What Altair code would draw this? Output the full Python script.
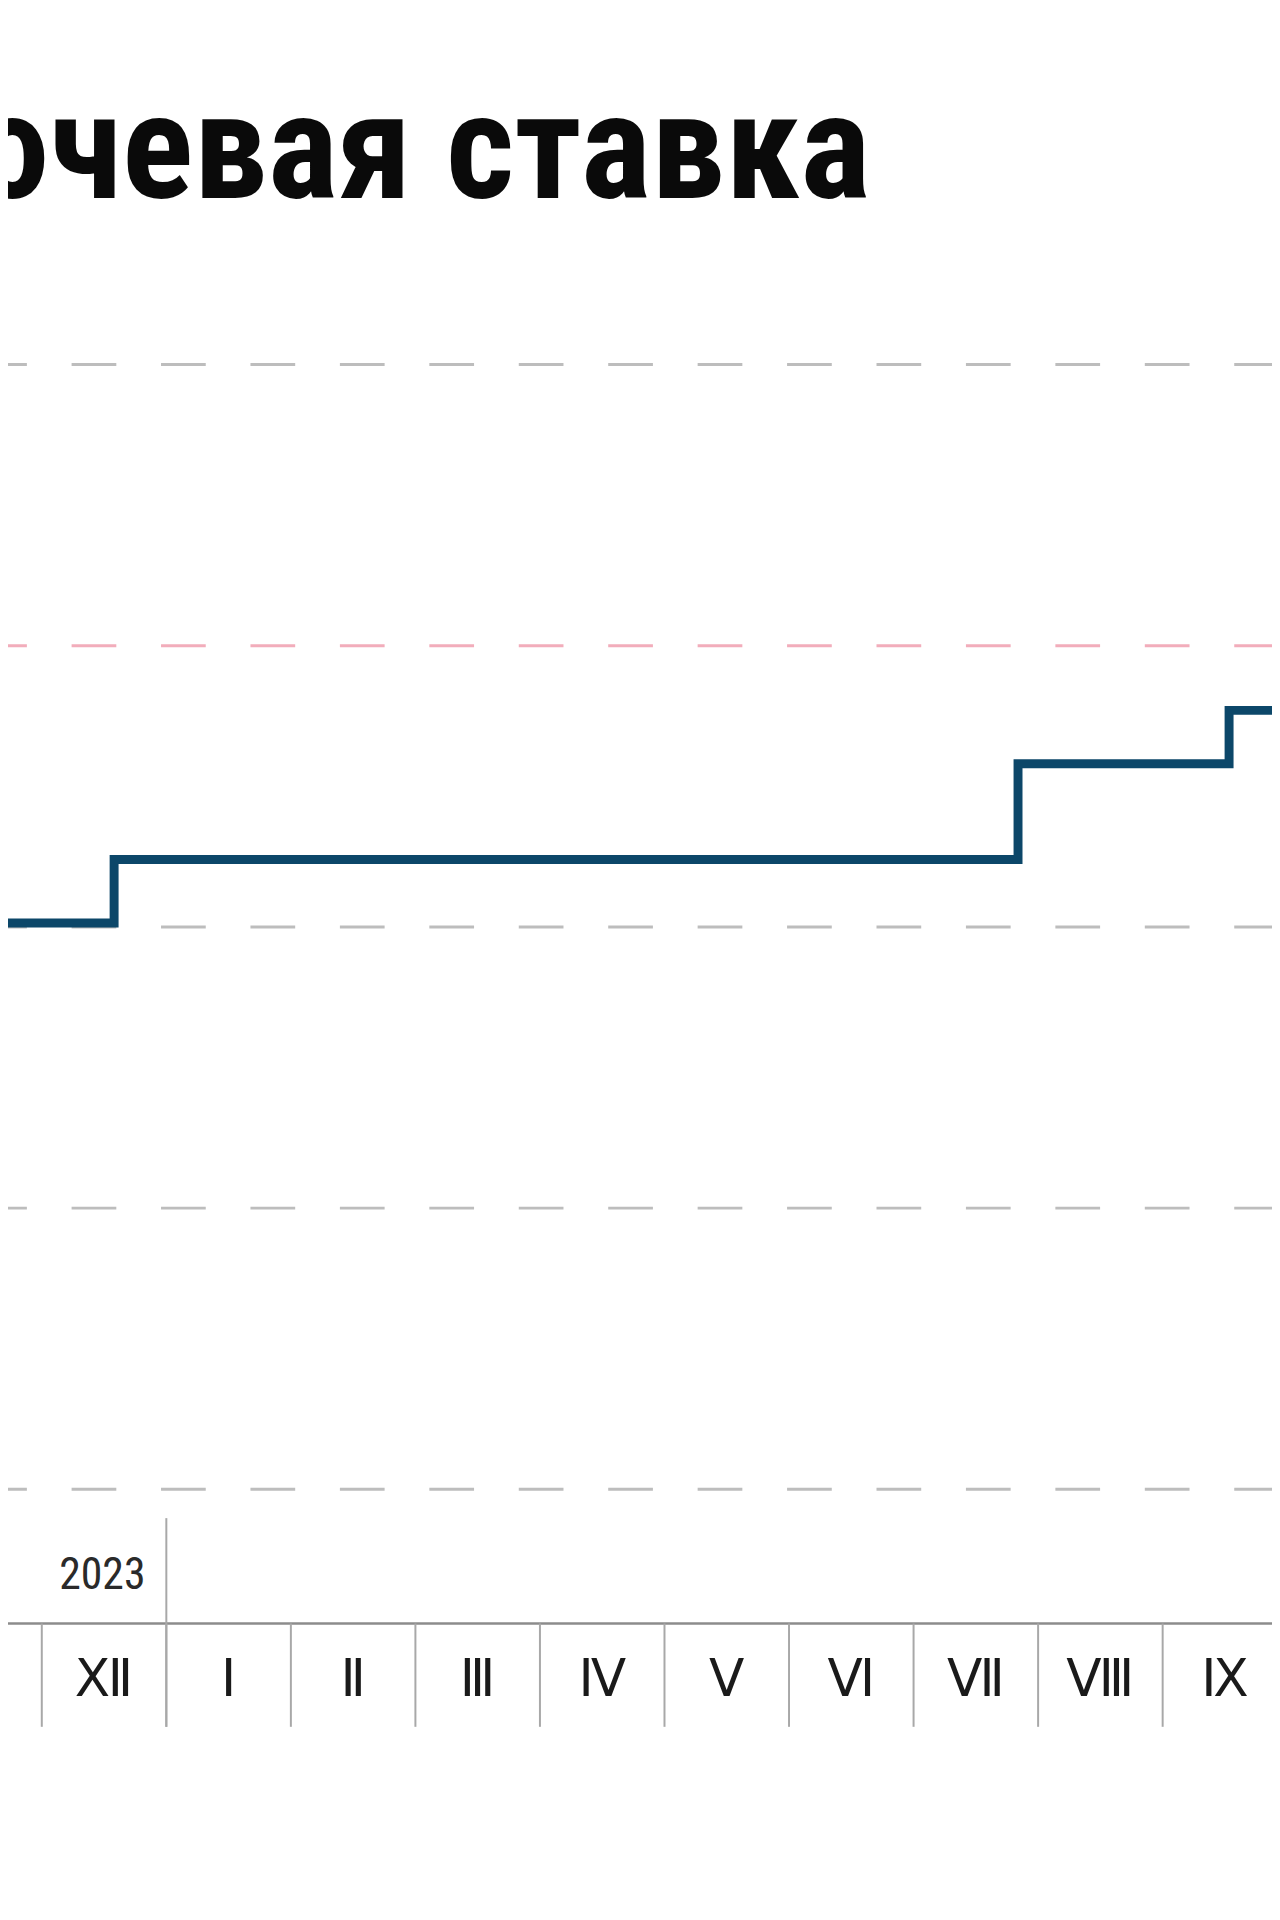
import calendar
import altair as alt
import pandas as pd

# ---- data ----
title_text = "Ключевая ставка"
year_label = "2023"
month_labels = ["Ⅺ", "Ⅻ", "Ⅰ", "Ⅱ", "Ⅲ", "Ⅳ", "Ⅴ", "Ⅵ", "Ⅶ", "Ⅷ", "Ⅸ", "Ⅹ"]
month_starts = ["2023-11", "2023-12", "2024-01", "2024-02", "2024-03", "2024-04",
                "2024-05", "2024-06", "2024-07", "2024-08", "2024-09", "2024-10"]
rate_dates = ["2023-11-01", "2023-12-18", "2024-07-26", "2024-09-16", "2024-10-31"]
rate_values = [15.07, 16.2, 17.9, 18.85, 18.85]
grid_values = [5, 10, 15, 20, 25]
grid_colors = ["#bdbdbd", "#bdbdbd", "#bdbdbd", "#f2adbb", "#bdbdbd"]

# month position: Dec 2023 = 0..1, Jan 2024 = 1..2, ...
def month_pos(date_str):
    y, m, d = (int(p) for p in date_str.split("-"))
    idx = (y - 2023) * 12 + (m - 12)
    return idx + d / calendar.monthrange(y, m)[1]

line_df = pd.DataFrame({"m": [month_pos(d) for d in rate_dates], "v": rate_values})
grid_df = pd.DataFrame({"v": grid_values, "c": grid_colors})
month_idx = [(int(s[:4]) - 2023) * 12 + (int(s[5:]) - 12) for s in month_starts]
labels_df = pd.DataFrame({"m": [i + 0.5 for i in month_idx], "t": month_labels})
ticks_df = pd.DataFrame({"m": month_idx})
year_df = pd.DataFrame({"m": [1], "t": [year_label]})
title_df = pd.DataFrame({"t": [title_text]})

W, H = 1272, 1800
xs = alt.Scale(domain=[-0.2713, 9.878], nice=False, zero=False)
ys = alt.Scale(domain=[-0.565, 31.237], nice=False, zero=False)

X = lambda f: alt.X(f, type="quantitative", scale=xs, axis=None)
Y = lambda f: alt.Y(f, type="quantitative", scale=ys, axis=None)

NARROW = "'Roboto Condensed', 'Open Sans Condensed', 'Liberation Sans Narrow', 'DejaVu Sans Condensed', sans-serif"

grid = alt.Chart(grid_df).mark_rule(strokeWidth=3, strokeDash=[45, 45], strokeDashOffset=7).encode(
    y=Y("v"), color=alt.Color("c:N", scale=None)
)

line = alt.Chart(line_df).mark_line(interpolate="step-after", strokeWidth=9, color="#0c4769", clip=True).encode(
    x=X("m"), y=Y("v")
)

axis_line = alt.Chart(title_df).mark_rule(color="#8c8c8c", strokeWidth=2.5).encode(
    x=alt.value(0), x2=alt.value(W), y=alt.value(1620)
)

ticks = alt.Chart(ticks_df).mark_rule(color="#a8a8a8", strokeWidth=2).encode(
    x=X("m"), y=alt.value(1620), y2=alt.value(1724)
)

year_sep = alt.Chart(year_df).mark_rule(color="#a8a8a8", strokeWidth=2).encode(
    x=X("m"), y=alt.value(1514), y2=alt.value(1724)
)

year_text = alt.Chart(year_df).mark_text(
    align="right", baseline="middle", dx=-21, fontSize=44, font=NARROW, color="#2a2a2a"
).encode(x=X("m"), y=alt.value(1572), text="t:N")

month_text = alt.Chart(labels_df).mark_text(
    align="center", baseline="middle", fontSize=52, font="'Noto Sans', 'DejaVu Sans', sans-serif", color="#1a1a1a"
).encode(x=X("m"), y=alt.value(1677), text="t:N")

title = alt.Chart(title_df).mark_text(
    align="right", baseline="alphabetic", fontSize=150, fontWeight="bold", font=NARROW, color="#0a0a0a"
).encode(x=alt.value(868), y=alt.value(186), text="t:N")

chart = alt.layer(grid, line, axis_line, ticks, year_sep, year_text, month_text, title).properties(
    width=W, height=H, padding=0, autosize=alt.AutoSizeParams(type="none"), background="white"
).configure_view(stroke=None)

chart.save("out.html", embed_options={"renderer": "svg", "actions": False})
